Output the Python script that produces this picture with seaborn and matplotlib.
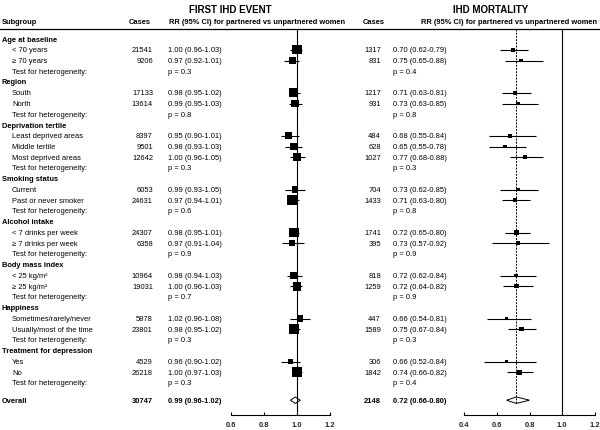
import numpy as np
import pandas as pd
import seaborn as sns
import matplotlib.pyplot as plt

# ---------------------------------------------------------------
# Forest plot: partnered vs unpartnered women, IHD event / mortality
# ---------------------------------------------------------------
groups = ['Age at baseline', 'Region', 'Deprivation tertile', 'Smoking status',
          'Alcohol intake', 'Body mass index', 'Happiness', 'Treatment for depression']
subgroups = [['< 70 years', '≥ 70 years'],
             ['South', 'North'],
             ['Least deprived areas', 'Middle tertile', 'Most deprived areas'],
             ['Current', 'Past or never smoker'],
             ['< 7 drinks per week', '≥ 7 drinks per week'],
             ['< 25 kg/m²', '≥ 25 kg/m²'],
             ['Sometimes/rarely/never', 'Usually/most of the time'],
             ['Yes', 'No']]

# first IHD event
ev_cases = [21541, 9206, 17133, 13614, 8397, 9501, 12642, 6053, 24631,
            24307, 6358, 10964, 19031, 5878, 23801, 4529, 26218]
ev_rr = [1.00, 0.97, 0.98, 0.99, 0.95, 0.98, 1.00, 0.99, 0.97,
         0.98, 0.97, 0.98, 1.00, 1.02, 0.98, 0.96, 1.00]
ev_lo = [0.96, 0.92, 0.95, 0.95, 0.90, 0.93, 0.96, 0.93, 0.94,
         0.95, 0.91, 0.94, 0.96, 0.96, 0.95, 0.90, 0.97]
ev_hi = [1.03, 1.01, 1.02, 1.03, 1.01, 1.03, 1.05, 1.05, 1.01,
         1.01, 1.04, 1.03, 1.03, 1.08, 1.02, 1.02, 1.03]
ev_p = ['0.3', '0.8', '0.3', '0.6', '0.9', '0.7', '0.3', '0.3']
ev_overall = (30747, 0.99, 0.96, 1.02)

# IHD mortality
mo_cases = [1317, 831, 1217, 931, 484, 628, 1027, 704, 1433,
            1741, 395, 818, 1259, 447, 1589, 306, 1842]
mo_rr = [0.70, 0.75, 0.71, 0.73, 0.68, 0.65, 0.77, 0.73, 0.71,
         0.72, 0.73, 0.72, 0.72, 0.66, 0.75, 0.66, 0.74]
mo_lo = [0.62, 0.65, 0.63, 0.63, 0.55, 0.55, 0.68, 0.62, 0.63,
         0.65, 0.57, 0.62, 0.64, 0.54, 0.67, 0.52, 0.66]
mo_hi = [0.79, 0.88, 0.81, 0.85, 0.84, 0.78, 0.88, 0.85, 0.80,
         0.80, 0.92, 0.84, 0.82, 0.81, 0.84, 0.84, 0.82]
mo_p = ['0.4', '0.8', '0.3', '0.8', '0.9', '0.9', '0.3', '0.4']
mo_overall = (2148, 0.72, 0.66, 0.80)

ev_ticks = [0.6, 0.8, 1.0, 1.2]
mo_ticks = [0.4, 0.6, 0.8, 1.0, 1.2]

sns.set_theme(style='white')
plt.rcParams['font.family'] = ['Liberation Sans', 'DejaVu Sans']

W, H = 600, 431
ROW0, STEP = 40.0, 10.75


def row_of(px):
    return (px - ROW0) / STEP


# row layout
heads, items, tests = [], [], []
r = 0
for g, subs in zip(groups, subgroups):
    heads.append((r, g))
    r += 1
    for s in subs:
        items.append((r, s))
        r += 1
    tests.append(r)
    r += 1
overall_row = r + 0.6

ev = pd.DataFrame({'row': [i[0] for i in items], 'cases': ev_cases,
                   'rr': ev_rr, 'lo': ev_lo, 'hi': ev_hi})
mo = pd.DataFrame({'row': [i[0] for i in items], 'cases': mo_cases,
                   'rr': mo_rr, 'lo': mo_lo, 'hi': mo_hi})
# box side ~ sqrt(weight), same scale for both panels
ref = max(ev_cases)
for d in (ev, mo):
    side_px = 2.6 + 7.4 * np.sqrt(d['cases'] / ref)
    d['area'] = (side_px * 0.72) ** 2

fig = plt.figure(figsize=(W / 100, H / 100), dpi=100)
bg = fig.add_axes([0, 0, 1, 1])
bg.set_xlim(0, W)
bg.set_ylim(row_of(H), row_of(0))
bg.axis('off')

FS = 5.4


def txt(x, y, s, ha='left', bold=False, size=FS):
    bg.text(x, y, s, ha=ha, va='center', fontsize=size,
            fontweight='bold' if bold else 'normal', color='black')


# titles and headers
txt(230, row_of(10), 'FIRST IHD EVENT', ha='center', bold=True, size=7)
txt(491, row_of(10), 'IHD MORTALITY', ha='center', bold=True, size=7)
hy = row_of(23)
txt(2, hy, 'Subgroup', bold=True)
txt(140, hy, 'Cases', ha='center', bold=True)
txt(169, hy, 'RR (95% CI) for partnered vs unpartnered women', bold=True)
txt(374, hy, 'Cases', ha='center', bold=True)
txt(421, hy, 'RR (95% CI) for partnered vs unpartnered women', bold=True)
bg.axhline(row_of(30), color='black', lw=0.9)

for rr_, g in heads:
    txt(2, rr_, g, bold=True)
for (rr_, s), i in zip(items, range(len(items))):
    txt(12, rr_, s)
    txt(153, rr_, str(ev_cases[i]), ha='right')
    txt(168, rr_, f'{ev_rr[i]:.2f} ({ev_lo[i]:.2f}-{ev_hi[i]:.2f})')
    txt(381, rr_, str(mo_cases[i]), ha='right')
    txt(393, rr_, f'{mo_rr[i]:.2f} ({mo_lo[i]:.2f}-{mo_hi[i]:.2f})')
for t, pe, pm in zip(tests, ev_p, mo_p):
    txt(12, t, 'Test for heterogeneity:')
    txt(168, t, f'p = {pe}')
    txt(393, t, f'p = {pm}')

txt(2, overall_row, 'Overall', bold=True)
txt(153, overall_row, str(ev_overall[0]), ha='right', bold=True)
txt(168, overall_row, f'{ev_overall[1]:.2f} ({ev_overall[2]:.2f}-{ev_overall[3]:.2f})', bold=True)
txt(381, overall_row, str(mo_overall[0]), ha='right', bold=True)
txt(393, overall_row, f'{mo_overall[1]:.2f} ({mo_overall[2]:.2f}-{mo_overall[3]:.2f})', bold=True)


def panel(rect, d, overall, ticks, dashed=None):
    ax = fig.add_axes(rect)
    ax.patch.set_alpha(0)
    ax.set_xlim(ticks[0], ticks[-1])
    ax.set_ylim(row_of(416), row_of(30))
    ax.hlines(d['row'], d['lo'], d['hi'], color='black', lw=0.8, zorder=2)
    amin, amax = d['area'].min(), d['area'].max()
    sns.scatterplot(data=d, x='rr', y='row', size='area', sizes=(amin, amax),
                    size_norm=(amin, amax), marker='s', color='black',
                    edgecolor='black', linewidth=0, legend=False, ax=ax,
                    zorder=3, clip_on=False)
    _, orr, olo, ohi = overall
    hh = 0.3
    ax.fill([olo, orr, ohi, orr], [overall_row, overall_row - hh, overall_row, overall_row + hh],
            facecolor='white', edgecolor='black', lw=0.7, zorder=4)
    ax.vlines(1.0, row_of(30), row_of(413), color='black', lw=0.8, zorder=5)
    if dashed is not None:
        ax.vlines(dashed, row_of(30), overall_row + hh, color='black', lw=0.7,
                  linestyles=(0, (2, 1.3)), zorder=5)
    for s in ('left', 'right', 'top'):
        ax.spines[s].set_visible(False)
    ax.spines['bottom'].set_color('black')
    ax.spines['bottom'].set_linewidth(0.8)
    ax.set_yticks([])
    ax.set_xticks(ticks)
    ax.set_xticklabels([f'{t:.1f}' for t in ticks], fontweight='bold', fontsize=FS)
    ax.tick_params(axis='x', bottom=True, direction='in', length=2.5, width=0.8,
                   color='black', pad=4)
    ax.set_xlabel('')
    ax.set_ylabel('')
    return ax


panel([231 / W, 15 / H, 99 / W, 386 / H], ev, ev_overall, ev_ticks)
panel([464 / W, 15 / H, 131 / W, 386 / H], mo, mo_overall, mo_ticks, dashed=0.72)

fig.savefig('out.png', dpi=100)
